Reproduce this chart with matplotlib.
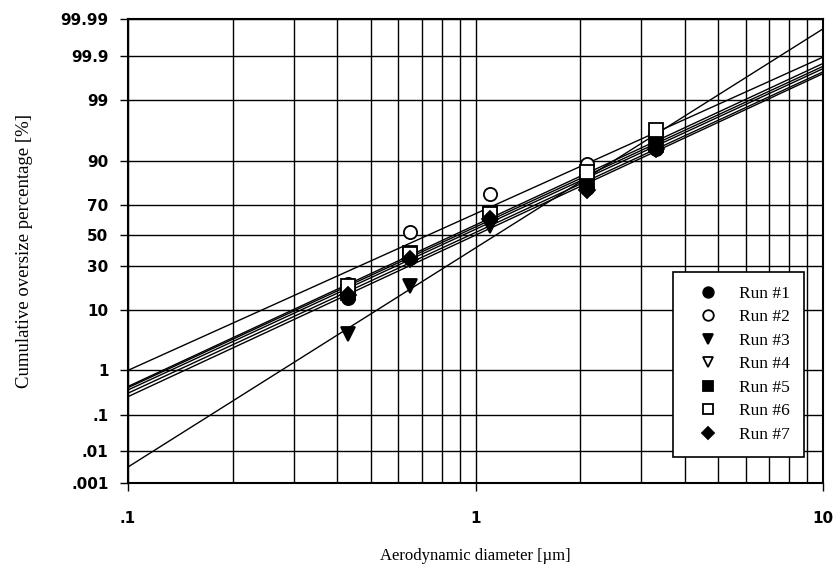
import math
import numpy as np
import matplotlib
matplotlib.use("Agg")
import matplotlib.pyplot as plt
from matplotlib.ticker import FixedLocator, NullFormatter, NullLocator

# ---------------- data ----------------
diameters = [0.43, 0.65, 1.1, 2.1, 3.3]          # µm (impactor cut points)
run_labels = ["Run #1", "Run #2", "Run #3", "Run #4", "Run #5", "Run #6", "Run #7"]
run1 = [14, 35, 62, 79, 93]
run2 = [20, 52, 76, 89, 96]
run3 = [4.4, 19, 56, 82, 95]
run4 = [17, 36, 63, 84, 95]
run5 = [16, 38, 64, 82, 94]
run6 = [19, 37, 64, 86, 96.5]
run7 = [15, 34, 61, 78, 93]
runs = [run1, run2, run3, run4, run5, run6, run7]
# fitted log-normal lines (MMAD [µm], GSD) for each run
mmad = [0.963, 0.730, 1.144, 0.890, 0.920, 0.865, 1.000]
gsd = [2.30, 2.35, 1.842, 2.30, 2.30, 2.29, 2.29]
markers = ["o", "o", "v", "v", "s", "s", "D"]
filled = [True, False, True, False, True, False, True]

y_ticks = [0.001, 0.01, 0.1, 1, 10, 30, 50, 70, 90, 99, 99.9, 99.99]
y_ticklabels = [".001", ".01", ".1", "1", "10", "30", "50", "70", "90", "99", "99.9", "99.99"]
x_ticks = [0.1, 1, 10]
x_ticklabels = [".1", "1", "10"]

# ---------------- probability scale ----------------
_a = [-3.969683028665376e+01, 2.209460984245205e+02, -2.759285104469687e+02,
      1.383577518672690e+02, -3.066479806614716e+01, 2.506628277459239e+00]
_b = [-5.447609879822406e+01, 1.615858368580409e+02, -1.556989798598866e+02,
      6.680131188771972e+01, -1.328068155288572e+01]
_c = [-7.784894002430293e-03, -3.223964580411365e-01, -2.400758277161838e+00,
      -2.549671010050035e+00, 4.374664141464968e+00, 2.938163982698783e+00]
_d = [7.784695709041462e-03, 3.224671290700398e-01, 2.445134137142996e+00,
      3.754408661907416e+00]
_verf = np.vectorize(math.erf, otypes=[float])


def probit(pct):
    p = np.clip(np.asarray(pct, dtype=float) / 100.0, 1e-12, 1 - 1e-12)
    plow = 0.02425
    ql = np.sqrt(-2 * np.log(p))
    xl = (((((_c[0]*ql+_c[1])*ql+_c[2])*ql+_c[3])*ql+_c[4])*ql+_c[5]) / \
         ((((_d[0]*ql+_d[1])*ql+_d[2])*ql+_d[3])*ql+1)
    qh = np.sqrt(-2 * np.log(1 - p))
    xh = -(((((_c[0]*qh+_c[1])*qh+_c[2])*qh+_c[3])*qh+_c[4])*qh+_c[5]) / \
         ((((_d[0]*qh+_d[1])*qh+_d[2])*qh+_d[3])*qh+1)
    q = p - 0.5
    r = q * q
    xm = (((((_a[0]*r+_a[1])*r+_a[2])*r+_a[3])*r+_a[4])*r+_a[5])*q / \
         (((((_b[0]*r+_b[1])*r+_b[2])*r+_b[3])*r+_b[4])*r+1)
    return np.where(p < plow, xl, np.where(p > 1 - plow, xh, xm))


def cdf_pct(z):
    z = np.asarray(z, dtype=float)
    return 50.0 * (1.0 + _verf(z / math.sqrt(2.0)))


# ---------------- figure ----------------
fig = plt.figure(figsize=(8.33, 5.82), dpi=100)
ax = fig.add_axes([128/833, 1 - 483/582, (823-128)/833, (483-19)/582])
ax.set_xscale("log")
ax.set_yscale("function", functions=(probit, cdf_pct))
ax.set_xlim(0.1, 10)
ax.set_ylim(0.001, 99.99)

# fitted lines
d_line = np.logspace(-1, 1, 60)
for m, g in zip(mmad, gsd):
    z = (np.log10(d_line) - np.log10(m)) / np.log10(g)
    ax.plot(d_line, cdf_pct(z), color="black", lw=1.0, zorder=3)

# data points
for vals, lab, mk, fl in zip(runs, run_labels, markers, filled):
    ms = 8 if mk == "D" else 9.5
    ax.plot(diameters, vals, linestyle="none", marker=mk, markersize=ms,
            markerfacecolor="black" if fl else "white",
            markeredgecolor="black", markeredgewidth=1.3,
            label=lab, zorder=4)

# ticks & grid
ax.yaxis.set_major_locator(FixedLocator(y_ticks))
ax.set_yticklabels(y_ticklabels)
ax.yaxis.set_minor_locator(NullLocator())
ax.xaxis.set_major_locator(FixedLocator(x_ticks))
ax.set_xticklabels(x_ticklabels)
minor_x = [k * 10.0**e for e in (-1, 0) for k in range(2, 10)]
ax.xaxis.set_minor_locator(FixedLocator(minor_x))
ax.xaxis.set_minor_formatter(NullFormatter())

ax.grid(True, which="major", axis="both", color="black", lw=1.0, zorder=1)
ax.grid(True, which="minor", axis="x", color="black", lw=1.0, zorder=1)
ax.set_axisbelow(True)

ax.tick_params(axis="y", which="major", direction="out", length=6, width=1,
               pad=8, labelsize=11)
ax.tick_params(axis="x", which="major", direction="out", length=6, width=1,
               pad=14, labelsize=11)
ax.tick_params(axis="x", which="minor", length=0)
for lbl in ax.get_xticklabels() + ax.get_yticklabels():
    lbl.set_fontfamily("DejaVu Sans")
    lbl.set_fontweight("bold")

for s in ax.spines.values():
    s.set_linewidth(1.5)
    s.set_color("black")

ax.set_xlabel("Aerodynamic diameter [µm]", family="Liberation Serif",
              fontsize=12, labelpad=16)
ax.set_ylabel("Cumulative oversize percentage [%]", family="Liberation Serif",
              fontsize=13.5, labelpad=20)

leg = ax.legend(loc="upper right", bbox_to_anchor=((804-128)/695, (483-272)/464),
                borderaxespad=0, frameon=True, fancybox=False, edgecolor="black",
                framealpha=1, markerscale=0.8, handlelength=2.4,
                handletextpad=0.6, labelspacing=0.42, borderpad=0.8,
                prop=dict(family="Liberation Serif", size=12.5))
leg.get_frame().set_linewidth(1.2)
leg.set_zorder(5)

fig.savefig("out.png", dpi=100)
